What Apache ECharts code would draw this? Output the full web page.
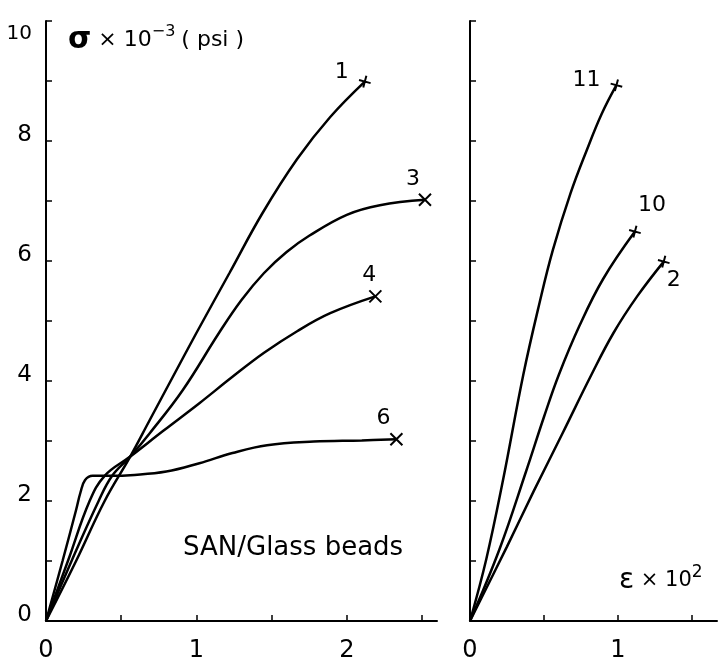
<!DOCTYPE html>
<html>
<head>
<meta charset="utf-8">
<script src="https://cdn.jsdelivr.net/npm/echarts@6/dist/echarts.min.js"></script>
<style>
  html, body { margin: 0; padding: 0; background: #fff; }
  #main { width: 718px; height: 665px; }
</style>
</head>
<body>
<div id="main"></div>
<script>
// left panel: SAN / glass beads, strain x10^2 vs stress x10^-3 psi
var curve1 = [[0, 0], [0.2, 1.0], [0.39, 2.0], [0.56, 2.74], [0.69, 3.35], [0.85, 4.1], [1.0, 4.8],
    [1.22, 5.8], [1.44, 6.8], [1.67, 7.7], [1.89, 8.4], [2.12, 8.99]];
var curve3 = [[0, 0], [0.17, 1.0], [0.35, 2.0], [0.44, 2.42], [0.56, 2.74], [0.69, 3.13], [0.91, 3.85],
    [1.15, 4.8], [1.3, 5.35], [1.45, 5.8], [1.6, 6.15], [1.75, 6.42], [2.0, 6.77], [2.22, 6.93], [2.52, 7.02]];
var curve4 = [[0, 0], [0.15, 1.03], [0.29, 2.0], [0.39, 2.42], [0.56, 2.74], [0.78, 3.17], [1.02, 3.63],
    [1.24, 4.07], [1.45, 4.47], [1.67, 4.83], [1.89, 5.13], [2.19, 5.41]];
var curve6 = [[0, 0], [0.11, 1.0], [0.2, 1.85], [0.23, 2.15], [0.26, 2.35], [0.31, 2.42], [0.45, 2.42],
    [0.56, 2.43], [0.8, 2.49], [1.02, 2.63], [1.24, 2.8], [1.47, 2.93], [1.78, 2.99], [2.1, 3.01], [2.33, 3.03]];

// right panel
var curve11 = [[0, 0], [0.11, 1.03], [0.225, 2.37], [0.36, 4.1], [0.47, 5.3], [0.56, 6.18],
    [0.68, 7.13], [0.79, 7.85], [0.89, 8.45], [0.99, 8.93]];
var curve10 = [[0, 0], [0.2, 1.2], [0.38, 2.5], [0.5, 3.4], [0.6, 4.1], [0.74, 4.92], [0.9, 5.7], [1.115, 6.49]];
var curve2 = [[0, 0], [0.25, 1.24], [0.43, 2.16], [0.63, 3.15], [0.82, 4.1], [0.97, 4.8], [1.13, 5.41], [1.31, 5.99]];

var leftTicks = [0, 0.5, 1, 1.5, 2, 2.5];
var leftLabels = [0, 1, 2];
var rightTicks = [0, 0.5, 1, 1.5];
var rightLabels = [0, 1];

var FONT = 'DejaVu Sans';
var crossX = 'path://M0,0L10,10M10,0L0,10';
var crossPlus = 'path://M5,-1L5,11M-1,5L11,5';

function curve(name, pts, xi, mark, off) {
    var data = pts.map(function (p, i) {
        if (i < pts.length - 1) return p;
        return {
            value: p,
            symbol: mark,
            symbolSize: 12,
            symbolRotate: mark === crossPlus ? -15 : 0,
            itemStyle: { color: '#000', borderColor: '#000', borderWidth: 2 },
            label: {
                show: true, position: 'inside', offset: off, formatter: name,
                color: '#000', fontSize: 22, fontFamily: FONT
            }
        };
    });
    return {
        name: name,
        type: 'line',
        xAxisIndex: xi,
        yAxisIndex: xi,
        smooth: 0.4,
        showSymbol: true,
        symbol: 'none',
        lineStyle: { color: '#000', width: 2.5 },
        data: data,
        silent: true
    };
}

function xAxisOf(idx, max, ticks, labels) {
    return {
        type: 'value', gridIndex: idx, min: 0, max: max,
        axisLine: { show: true, lineStyle: { color: '#000', width: 2 } },
        axisTick: { show: true, inside: true, length: 6, customValues: ticks, lineStyle: { color: '#000', width: 1.5 } },
        axisLabel: { customValues: labels, margin: 18, color: '#000', fontSize: 24, fontFamily: FONT },
        splitLine: { show: false }
    };
}

function yAxisOf(idx, showLabel) {
    return {
        type: 'value', gridIndex: idx, min: 0, max: 10, interval: 1,
        axisLine: { show: true, lineStyle: { color: '#000', width: 2 } },
        axisTick: { show: true, inside: true, length: 6, lineStyle: { color: '#000', width: 1.5 } },
        axisLabel: {
            show: showLabel, margin: 14, color: '#000', fontSize: 23, fontFamily: FONT,
            padding: [0, 0, 12, 0],
            formatter: function (v) {
                if (v === 10) return '{s|10}';
                return v % 2 === 0 ? v : '';
            },
            rich: { s: { fontSize: 20, fontFamily: FONT, color: '#000', padding: [38, 0, 0, 0] } }
        },
        splitLine: { show: false }
    };
}

var myChart = echarts.init(document.getElementById('main'));
myChart.setOption({
    animation: false,
    backgroundColor: '#fff',
    grid: [
        { left: 46, top: 21, width: 391, height: 600 },
        { left: 470, top: 21, width: 247, height: 600 }
    ],
    xAxis: [xAxisOf(0, 2.6, leftTicks, leftLabels), xAxisOf(1, 1.67, rightTicks, rightLabels)],
    yAxis: [yAxisOf(0, true), yAxisOf(1, false)],
    graphic: [
        {
            type: 'text', left: 68, top: 24,
            style: {
                text: '{s|σ}{m| × 10}{sup|−3}{m|( psi )}',
                rich: {
                    s: { fontSize: 30, fontWeight: 'bold', fontFamily: FONT, fill: '#000' },
                    m: { fontSize: 22, fontFamily: FONT, fill: '#000' },
                    sup: { fontSize: 16, fontFamily: FONT, fill: '#000', padding: [0, 6, 16, 0] }
                }
            }
        },
        {
            type: 'text', left: 183, top: 535,
            style: { text: 'SAN/Glass beads', fontSize: 26, fontFamily: FONT, fill: '#000' }
        },
        {
            type: 'text', left: 619, top: 564,
            style: {
                text: '{s|ε}{m| × 10}{sup|2}',
                rich: {
                    s: { fontSize: 28, fontFamily: FONT, fill: '#000' },
                    m: { fontSize: 21, fontFamily: FONT, fill: '#000' },
                    sup: { fontSize: 17, fontFamily: FONT, fill: '#000', padding: [0, 0, 16, 0] }
                }
            }
        }
    ],
    series: [
        curve('1', curve1, 0, crossPlus, [-23, -9]),
        curve('3', curve3, 0, crossX, [-12, -21]),
        curve('4', curve4, 0, crossX, [-6, -21]),
        curve('6', curve6, 0, crossX, [-13, -21]),
        curve('11', curve11, 1, crossPlus, [-30, -5]),
        curve('10', curve10, 1, crossPlus, [17, -26]),
        curve('2', curve2, 1, crossPlus, [10, 19])
    ]
});
</script>
</body>
</html>
